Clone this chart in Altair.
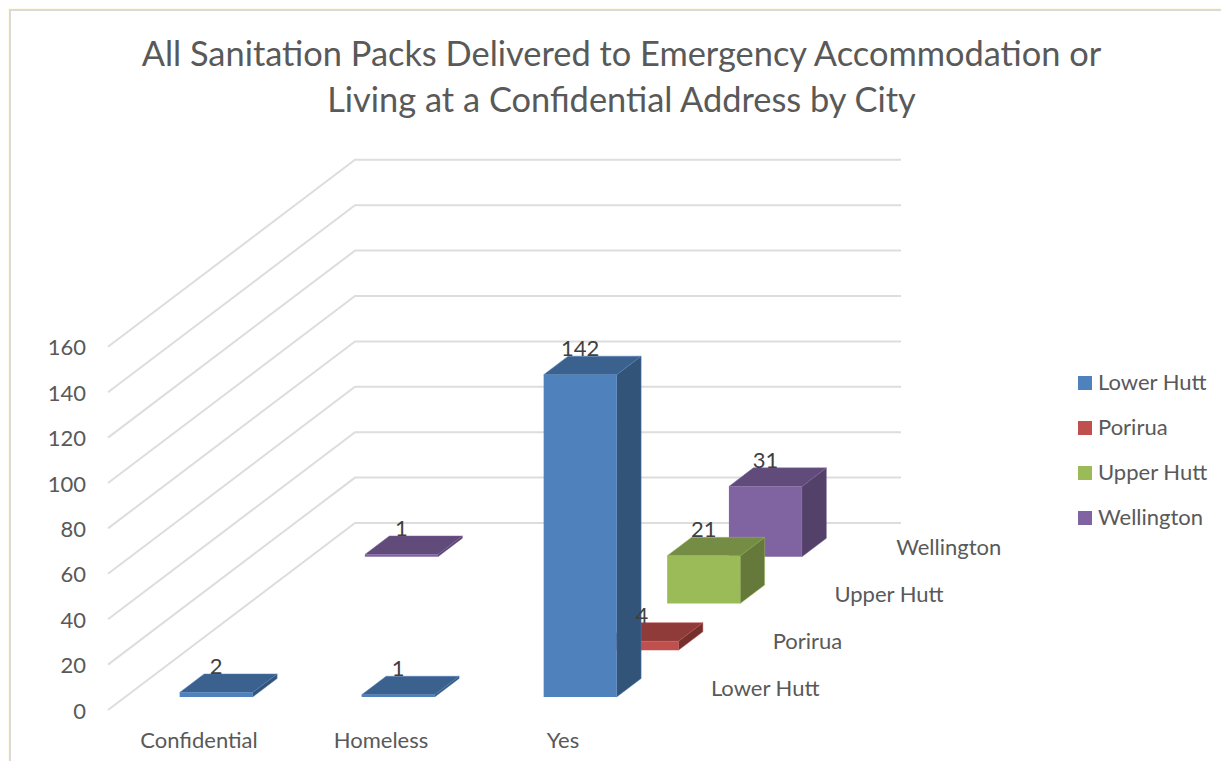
import altair as alt
import pandas as pd

title_lines = ["All Sanitation Packs Delivered to Emergency Accommodation or",
               "Living at a Confidential Address by City"]
categories = ["Confidential", "Homeless", "Yes"]
series = ["Lower Hutt", "Porirua", "Upper Hutt", "Wellington"]
values = {
    "Lower Hutt": [2, 1, 142],
    "Porirua": [None, None, 4],
    "Upper Hutt": [None, None, 21],
    "Wellington": [1, None, 31],
}
ticks = [0, 20, 40, 60, 80, 100, 120, 140, 160]
front_cols = ["#4F81BD", "#C0504D", "#9BBB59", "#8064A2"]
top_cols = ["#3B618E", "#8E3B39", "#748C43", "#604B7A"]
side_cols = ["#335479", "#75302E", "#657A3A", "#534169"]

FONT = "Lato"
INK = "#595959"
W, H = 1213, 753
OX, OY = 8, 8          # page offset of the canvas
# oblique projection of the 3-D box
X0, Y0 = 108, 710      # front-left floor corner
CAT_W = 182
DEP_X, DEP_Y = 61.75, 46.75
PX_PER_UNIT = 2.27
GAP = 54.5
BAR_W = 73
BAR_OFF, BAR_DEP = 0.278, 0.396


def proj(cat, depth, val):
    return X0 + cat * CAT_W + depth * DEP_X, Y0 - depth * DEP_Y - val * PX_PER_UNIT


xs = alt.Scale(domain=[OX, OX + W], range=[0, W], nice=False, zero=False)
ys = alt.Scale(domain=[OY + H, OY], range=[H, 0], nice=False, zero=False)
X = lambda f="x": alt.X(f + ":Q", scale=xs, axis=None, title=None)
Y = lambda f="y": alt.Y(f + ":Q", scale=ys, axis=None, title=None)

layers = []

# frame
layers.append(
    alt.Chart(pd.DataFrame({"x": [10], "x2": [1260], "y": [10], "y2": [800]}))
    .mark_rect(fill="white", stroke="#D9D9D9", strokeWidth=2)
    .encode(x=X(), x2="x2:Q", y=Y(), y2="y2:Q")
)

# gridlines
grid = []
nd = len(series)
for t in ticks:
    for i, (cx, d) in enumerate([(0, 0), (0, nd), (len(categories), nd)]):
        px, py = proj(cx, d, t)
        grid.append({"t": t, "i": i, "x": px, "y": py})
layers.append(
    alt.Chart(pd.DataFrame(grid))
    .mark_line(color="#DDDDDD", strokeWidth=2)
    .encode(x=X(), y=Y(), detail="t:N", order="i:Q")
)

# bars, painted back to front
labels = []
for si in reversed(range(nd)):
    name = series[si]
    sides, tops, fronts = [], [], []
    for ci, v in enumerate(values[name]):
        if v is None:
            continue
        d0 = si + BAR_OFF
        d1 = d0 + BAR_DEP
        xa0 = proj(ci, d0, 0)[0] + GAP
        xb0 = xa0 + BAR_W
        xa1 = proj(ci, d1, 0)[0] + GAP
        xb1 = xa1 + BAR_W
        yb0 = proj(ci, d0, 0)[1]
        yt0 = proj(ci, d0, v)[1]
        yb1 = proj(ci, d1, 0)[1]
        yt1 = proj(ci, d1, v)[1]
        fronts.append({"id": ci, "series": name, "x": xa0, "x2": xb0, "y": yb0, "y2": yt0})
        sides += [{"id": ci, "x": xb0, "y": yb0, "y2": yt0},
                  {"id": ci, "x": xb1, "y": yb1, "y2": yt1}]
        tops += [{"id": ci, "y": yt1, "x": xa1, "x2": xb1},
                 {"id": ci, "y": yt0, "x": xa0, "x2": xb0}]
        labels.append({"x": (xa0 + xb0) / 2, "y": yt1 - 7, "t": str(v)})
    layers.append(
        alt.Chart(pd.DataFrame(sides))
        .mark_area(fill=side_cols[si], orient="vertical", opacity=1, fillOpacity=1,
                   stroke=front_cols[si], strokeWidth=0.6, strokeOpacity=0.8)
        .encode(x=X(), y=Y(), y2="y2:Q", detail="id:N")
    )
    layers.append(
        alt.Chart(pd.DataFrame(tops))
        .mark_area(fill=top_cols[si], orient="horizontal", opacity=1, fillOpacity=1,
                   stroke=front_cols[si], strokeWidth=0.6, strokeOpacity=0.8)
        .encode(y=Y(), x=X(), x2="x2:Q", detail="id:N")
    )
    layers.append(
        alt.Chart(pd.DataFrame(fronts))
        .mark_rect(opacity=1)
        .encode(
            x=X(), x2="x2:Q", y=Y(), y2="y2:Q",
            color=alt.Color(
                "series:N",
                scale=alt.Scale(domain=series, range=front_cols),
                legend=alt.Legend(
                    title=None, orient="none", legendX=1074 - OX, legendY=372 - OY,
                    symbolType="square", symbolSize=196, symbolStrokeWidth=0, symbolOpacity=1,
                    labelFont=FONT, labelFontSize=22, labelColor=INK, labelOffset=2,
                    rowPadding=23, padding=0, labelLimit=200,
                ),
            ),
        )
    )

# data labels
layers.append(
    alt.Chart(pd.DataFrame(labels))
    .mark_text(font=FONT, fontSize=22, color="#404040", align="center", baseline="middle")
    .encode(x=X(), y=Y(), text="t:N")
)

# value axis labels
tick_df = pd.DataFrame([{"x": 86, "y": proj(0, 0, t)[1] + 1.5, "t": str(t)} for t in ticks])
layers.append(
    alt.Chart(tick_df)
    .mark_text(font=FONT, fontSize=22, color=INK, align="right", baseline="middle")
    .encode(x=X(), y=Y(), text="t:N")
)

# category labels
cat_df = pd.DataFrame([{"x": proj(i + 0.5, 0, 0)[0], "y": 741, "t": c} for i, c in enumerate(categories)])
layers.append(
    alt.Chart(cat_df)
    .mark_text(font=FONT, fontSize=22, color=INK, align="center", baseline="middle")
    .encode(x=X(), y=Y(), text="t:N")
)

# series labels
ser_df = pd.DataFrame([
    {"x": proj(len(categories), i + 0.5, 0)[0] + 26, "y": proj(0, i + 0.5, 0)[1] + 2, "t": s}
    for i, s in enumerate(series)
])
layers.append(
    alt.Chart(ser_df)
    .mark_text(font=FONT, fontSize=22, color=INK, align="left", baseline="middle")
    .encode(x=X(), y=Y(), text="t:N")
)

chart = (
    alt.layer(*layers)
    .properties(
        width=W, height=H, padding=0,
        autosize=alt.AutoSizeParams(type="none"),
        background="#FFFBE6",
        title=alt.TitleParams(
            text=title_lines, font=FONT, fontSize=34.4, fontWeight="normal", color=INK,
            anchor="middle", frame="group", lineHeight=46, baseline="middle",
            orient="top", offset=0, dy=128, dx=7,
        ),
    )
    .configure_view(stroke=None)
)

chart.save("out.html", embed_options={"renderer": "svg", "actions": False})
